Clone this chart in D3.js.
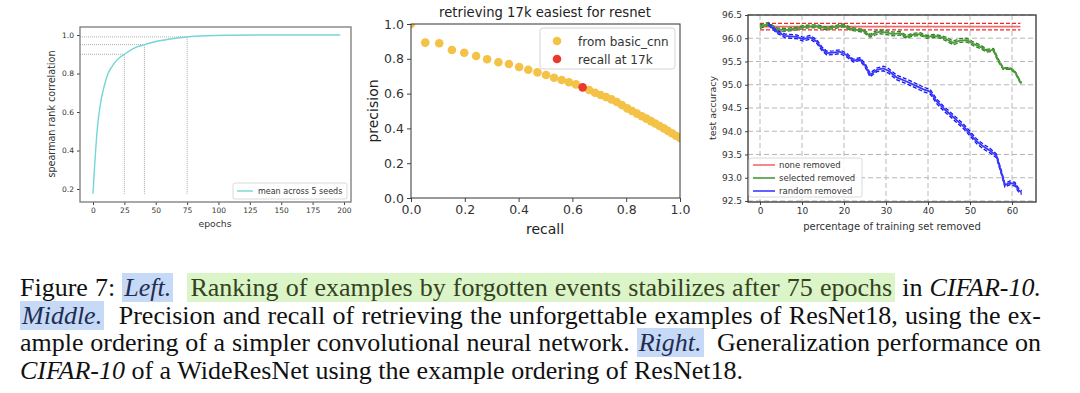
<!DOCTYPE html>
<html>
<head>
<meta charset="utf-8">
<script src="https://cdn.jsdelivr.net/npm/d3@7"></script>
<style>
  body { margin: 0; background: #fff; }
  #wrap { position: relative; width: 1080px; height: 393px; overflow: hidden; }
  svg { position: absolute; left: 0; top: 0; }
  .caption { position: absolute; left: 20px; top: 274px; width: 1021px;
    font-family: "Liberation Serif", "Times New Roman", serif; font-size: 26px; line-height: 27.7px; color: #111; }
  .caption .ln { white-space: nowrap; }
  .caption .j { text-align: justify; text-align-last: justify; white-space: normal; }
  .hl-b { background: #c6d9f6; color: #1f2d52; padding: 0 2px; }
  .hl-g { background: #dbf5c8; color: #34421f; padding: 0 3px; }
</style>
</head>
<body>
<div id="wrap"></div>
<script>
// ---- left: spearman rank correlation vs epochs
const epochs = [0, 1, 2, 3, 4, 5, 6, 8, 10, 12, 15, 18, 21, 25, 30, 35, 41, 50, 60, 75, 90, 110, 130, 160, 197];
const spearman = [0.175, 0.29, 0.39, 0.48, 0.55, 0.60, 0.645, 0.71, 0.76, 0.80, 0.835, 0.862, 0.882, 0.90, 0.922, 0.938, 0.95, 0.966, 0.978, 0.99, 0.996, 0.999, 1.0, 1.0, 1.0];
const markEpochs = [25, 41, 75];
const markCorr = [0.90, 0.95, 0.99];
const leftXTicks = [0, 25, 50, 75, 100, 125, 150, 175, 200];
const leftYTicks = [0.2, 0.4, 0.6, 0.8, 1.0];

// ---- middle: precision / recall
const recall = [0, 0.053, 0.105, 0.152, 0.198, 0.242, 0.283, 0.325, 0.364, 0.402, 0.436, 0.47, 0.502, 0.532, 0.56, 0.587, 0.613,
  0.662, 0.684, 0.705, 0.725, 0.745, 0.765, 0.784, 0.804, 0.822, 0.84, 0.858, 0.875, 0.892, 0.908, 0.924, 0.94, 0.955, 0.97, 0.985, 1.0];
const precision = [1.0, 0.893, 0.889, 0.851, 0.835, 0.816, 0.797, 0.78, 0.77, 0.753, 0.737, 0.722, 0.707, 0.691, 0.678, 0.665, 0.653,
  0.621, 0.605, 0.592, 0.58, 0.567, 0.552, 0.534, 0.515, 0.50, 0.485, 0.47, 0.456, 0.442, 0.428, 0.414, 0.40, 0.386, 0.372, 0.358, 0.345];
const recallAt17k = [0.638];
const precisionAt17k = [0.636];
const midTicks = [0, 0.2, 0.4, 0.6, 0.8, 1.0];

// ---- right: test accuracy vs percentage removed
const noneX = [0, 62];
const noneMean = [96.25, 96.25];
const noneStd = [0.07, 0.07];
const selX = [0, 2, 4, 6.3, 8.7, 11.1, 13.5, 15.9, 18.3, 19.8, 21.4, 23, 24.6, 26.2, 27.4, 28.6, 30.2, 31.7, 33.3, 34.9, 36.1, 38.1, 39.7,
  41.3, 42.9, 44.4, 46, 47.6, 49.2, 50.8, 52.4, 54, 55.6, 56.7, 57.9, 59.5, 60.7, 61.9, 62.3];
const selAcc = [96.25, 96.31, 96.19, 96.18, 96.21, 96.25, 96.26, 96.21, 96.25, 96.28, 96.21, 96.18, 96.16, 96.05, 96.11, 96.14, 96.12,
  96.09, 96.11, 96.03, 96.07, 96.09, 96.03, 96.05, 96.03, 95.98, 95.90, 95.95, 95.96, 95.88, 95.82, 95.73, 95.75, 95.53, 95.35, 95.35,
  95.28, 95.07, 95.03];
const selStd = [0.04, 0.03, 0.03, 0.03, 0.03, 0.03, 0.03, 0.03, 0.03, 0.03, 0.03, 0.03, 0.03, 0.03, 0.04, 0.04, 0.04, 0.04, 0.04, 0.03,
  0.03, 0.03, 0.03, 0.03, 0.03, 0.04, 0.04, 0.04, 0.04, 0.04, 0.04, 0.03, 0.03, 0.03, 0.02, 0.02, 0.02, 0.02, 0.02];
const randX = [2, 4, 6, 8.7, 10.3, 11.9, 13.5, 14.7, 15.9, 17.5, 19, 20.6, 22.2, 23.8, 25, 26.2, 27.8, 29.4, 30.6, 32.5, 34.9, 37.3, 38.9,
  40.5, 42.1, 43.7, 45.2, 46.8, 48.4, 50, 51.6, 53.2, 54.8, 56.3, 57.5, 58.3, 59.5, 60.7, 61.5, 62.3];
const randAcc = [96.30, 96.14, 96.05, 96.03, 95.98, 96.02, 95.93, 95.78, 95.68, 95.69, 95.71, 95.64, 95.52, 95.55, 95.42, 95.21, 95.32,
  95.35, 95.30, 95.16, 95.07, 94.97, 94.90, 94.85, 94.64, 94.49, 94.37, 94.24, 94.11, 93.95, 93.78, 93.67, 93.58, 93.47, 93.10, 92.84,
  92.89, 92.86, 92.74, 92.68];
const randStd = [0.02, 0.03, 0.04, 0.04, 0.04, 0.04, 0.04, 0.04, 0.04, 0.04, 0.04, 0.04, 0.03, 0.03, 0.04, 0.04, 0.04, 0.05, 0.05, 0.05,
  0.05, 0.05, 0.05, 0.05, 0.05, 0.05, 0.05, 0.05, 0.05, 0.05, 0.05, 0.05, 0.05, 0.04, 0.04, 0.04, 0.04, 0.04, 0.04, 0.04];
const rightXTicks = [0, 10, 20, 30, 40, 50, 60];
const rightYTicks = [92.5, 93.0, 93.5, 94.0, 94.5, 95.0, 95.5, 96.0, 96.5];

const FONT = "DejaVu Sans, sans-serif";
const wrap = d3.select("#wrap");
const svg = wrap.append("svg").attr("width", 1080).attr("height", 270);

// helper: draws frame + axes for one panel
const drawAxes = (g, x, y, xTicks, yTicks, opt) => {
    g.append("g")
        .attr("transform", "translate(0," + y.range()[0] + ")")
        .call(d3.axisBottom(x).tickValues(xTicks).tickSize(opt.tick).tickPadding(opt.pad).tickFormat(opt.xf))
        .call(a => a.select(".domain").remove())
        .call(a => a.selectAll("text").attr("font-family", FONT).attr("font-size", opt.fs).attr("fill", "#333"))
        .call(a => a.selectAll("line").attr("stroke", "#444"));
    g.append("g")
        .attr("transform", "translate(" + x.range()[0] + ",0)")
        .call(d3.axisLeft(y).tickValues(yTicks).tickSize(opt.tick).tickPadding(opt.pad).tickFormat(opt.yf))
        .call(a => a.select(".domain").remove())
        .call(a => a.selectAll("text").attr("font-family", FONT).attr("font-size", opt.fs).attr("fill", "#333"))
        .call(a => a.selectAll("line").attr("stroke", "#444"));
    g.append("rect")
        .attr("x", x.range()[0]).attr("y", y.range()[1])
        .attr("width", x.range()[1] - x.range()[0]).attr("height", y.range()[0] - y.range()[1])
        .attr("fill", "none").attr("stroke", opt.frame).attr("stroke-width", opt.fw);
};

// ================= LEFT =================
{
    const g = svg.append("g");
    const x = d3.scaleLinear().domain([-10.36, 205.6]).range([80, 351]);
    const y = d3.scaleLinear().domain([0.1325, 1.0416]).range([202, 27]);

    // dotted guide lines
    markEpochs.forEach((e, i) => {
        g.append("line").attr("x1", x(e)).attr("x2", x(e)).attr("y1", y(d3.min(spearman))).attr("y2", y(markCorr[i]))
            .attr("stroke", "#888").attr("stroke-width", 0.7).attr("stroke-dasharray", "1,1");
        g.append("line").attr("x1", x.range()[0]).attr("x2", x(e)).attr("y1", y(markCorr[i])).attr("y2", y(markCorr[i]))
            .attr("stroke", "#888").attr("stroke-width", 0.7).attr("stroke-dasharray", "1,1");
    });

    const line = d3.line().x((d, i) => x(epochs[i])).y(d => y(d)).curve(d3.curveMonotoneX);
    g.append("path").attr("d", line(spearman)).attr("fill", "none").attr("stroke", "#74d6d6").attr("stroke-width", 1.4);

    drawAxes(g, x, y, leftXTicks, leftYTicks, { tick: 3, pad: 3, fs: 7.5, frame: "#7a7a7a", fw: 1.3,
        xf: d3.format("d"), yf: d3.format(".1f") });

    g.append("text").attr("x", 215).attr("y", 227).attr("text-anchor", "middle")
        .attr("font-family", FONT).attr("font-size", 9.3).attr("fill", "#333").text("epochs");
    g.append("text").attr("transform", "translate(55,114) rotate(-90)").attr("text-anchor", "middle")
        .attr("font-family", FONT).attr("font-size", 9.6).attr("fill", "#333").text("spearman rank correlation");

    // legend
    g.append("rect").attr("x", 233).attr("y", 183).attr("width", 114).attr("height", 16).attr("rx", 2)
        .attr("fill", "#fff").attr("stroke", "#d0d0d0").attr("stroke-width", 0.8);
    g.append("line").attr("x1", 237).attr("x2", 253).attr("y1", 191).attr("y2", 191)
        .attr("stroke", "#74d6d6").attr("stroke-width", 1.4);
    g.append("text").attr("x", 258).attr("y", 194).attr("font-family", FONT).attr("font-size", 8)
        .attr("fill", "#333").text("mean across 5 seeds");
}

// ================= MIDDLE =================
{
    const g = svg.append("g");
    const x = d3.scaleLinear().domain([0, 1]).range([411, 680]);
    const y = d3.scaleLinear().domain([0, 1]).range([198, 24]);

    const clip = svg.append("clipPath").attr("id", "midclip");
    clip.append("rect").attr("x", 411).attr("y", 24).attr("width", 269).attr("height", 174);
    const pts = g.append("g").attr("clip-path", "url(#midclip)");

    pts.selectAll("circle.cnn").data(recall).enter().append("circle").attr("class", "cnn")
        .attr("cx", d => x(d)).attr("cy", (d, i) => y(precision[i])).attr("r", 4.3)
        .attr("fill", "#f3c246");
    pts.selectAll("circle.k17").data(recallAt17k).enter().append("circle").attr("class", "k17")
        .attr("cx", d => x(d)).attr("cy", (d, i) => y(precisionAt17k[i])).attr("r", 4.3)
        .attr("fill", "#ea3a2c");

    drawAxes(g, x, y, midTicks, midTicks, { tick: 4, pad: 3, fs: 12.5, frame: "#333", fw: 1,
        xf: d3.format(".1f"), yf: d3.format(".1f") });

    g.append("text").attr("x", 545).attr("y", 17).attr("text-anchor", "middle")
        .attr("font-family", FONT).attr("font-size", 13.2).attr("fill", "#222").text("retrieving 17k easiest for resnet");
    g.append("text").attr("x", 545).attr("y", 234).attr("text-anchor", "middle")
        .attr("font-family", FONT).attr("font-size", 14).attr("fill", "#222").text("recall");
    g.append("text").attr("transform", "translate(378,111) rotate(-90)").attr("text-anchor", "middle")
        .attr("font-family", FONT).attr("font-size", 14).attr("fill", "#222").text("precision");

    // legend
    g.append("rect").attr("x", 540).attr("y", 28).attr("width", 135).attr("height", 41).attr("rx", 3)
        .attr("fill", "#fff").attr("fill-opacity", 0.85).attr("stroke", "#d5d5d5").attr("stroke-width", 1);
    const entries = [["from basic_cnn", "#f3c246"], ["recall at 17k", "#ea3a2c"]];
    entries.forEach((e, i) => {
        g.append("circle").attr("cx", 557).attr("cy", 41 + i * 18).attr("r", 4.3).attr("fill", e[1]);
        g.append("text").attr("x", 578).attr("y", 45.5 + i * 18).attr("font-family", FONT).attr("font-size", 12)
            .attr("fill", "#333").text(e[0]);
    });
}

// ================= RIGHT =================
{
    const g = svg.append("g");
    const x = d3.scaleLinear().domain([-2.857, 65.71]).range([748, 1036]);
    const y = d3.scaleLinear().domain([92.478, 96.5]).range([202, 15]);

    // dashed grid
    g.append("g").selectAll("line").data(rightXTicks).enter().append("line")
        .attr("x1", d => x(d)).attr("x2", d => x(d)).attr("y1", 15).attr("y2", 202)
        .attr("stroke", "#b8b8b8").attr("stroke-width", 1).attr("stroke-dasharray", "5,3");
    g.append("g").selectAll("line").data(rightYTicks).enter().append("line")
        .attr("x1", 748).attr("x2", 1036).attr("y1", d => y(d)).attr("y2", d => y(d))
        .attr("stroke", "#b8b8b8").attr("stroke-width", 1).attr("stroke-dasharray", "5,3");

    const series = (xs, mean, std, dark, light) => {
        const l = (sign) => d3.line().x((d, i) => x(xs[i])).y((d, i) => y(d + sign * std[i]));
        g.append("path").attr("d", l(1)(mean)).attr("fill", "none").attr("stroke", dark)
            .attr("stroke-width", 1.3).attr("stroke-dasharray", "4,2");
        g.append("path").attr("d", l(-1)(mean)).attr("fill", "none").attr("stroke", dark)
            .attr("stroke-width", 1.3).attr("stroke-dasharray", "4,2");
        g.append("path").attr("d", l(0)(mean)).attr("fill", "none").attr("stroke", light)
            .attr("stroke-width", 1.8).attr("stroke-linejoin", "round");
    };
    series(noneX, noneMean, noneStd, "#ee2a2a", "#f26a6a");
    series(selX, selAcc, selStd, "#2f7f1f", "#4a9a3a");
    series(randX, randAcc, randStd, "#1515f0", "#3a3aff");

    drawAxes(g, x, y, rightXTicks, rightYTicks, { tick: 3, pad: 3, fs: 9, frame: "#333", fw: 1.3,
        xf: d3.format("d"), yf: d3.format(".1f") });

    g.append("text").attr("x", 892).attr("y", 230).attr("text-anchor", "middle")
        .attr("font-family", FONT).attr("font-size", 10).attr("fill", "#333").text("percentage of training set removed");
    g.append("text").attr("transform", "translate(716,108) rotate(-90)").attr("text-anchor", "middle")
        .attr("font-family", FONT).attr("font-size", 9.5).attr("fill", "#333").text("test accuracy");

    // legend
    g.append("rect").attr("x", 749).attr("y", 158).attr("width", 113).attr("height", 39).attr("rx", 2)
        .attr("fill", "#fff").attr("fill-opacity", 0.85).attr("stroke", "#d0d0d0").attr("stroke-width", 0.8);
    const entries = [["none removed", "#f26a6a"], ["selected removed", "#4a9a3a"], ["random removed", "#3a3aff"]];
    entries.forEach((e, i) => {
        g.append("line").attr("x1", 753).attr("x2", 775).attr("y1", 165 + i * 13).attr("y2", 165 + i * 13)
            .attr("stroke", e[1]).attr("stroke-width", 1.6);
        g.append("text").attr("x", 779).attr("y", 168 + i * 13).attr("font-family", FONT).attr("font-size", 8.5)
            .attr("fill", "#333").text(e[0]);
    });
}

// ================= CAPTION =================
const captionLines = [
    [["Figure 7: ", ""], ["Left.", "ib"], ["\u00a0 ", ""], ["Ranking of examples by forgotten events stabilizes after 75 epochs", "g"], [" in ", ""], ["CIFAR-10.", "i"]],
    [["Middle.", "ib"], ["\u00a0 Precision and recall of retrieving the unforgettable examples of ResNet18, using the ex-", ""]],
    [["ample ordering of a simpler convolutional neural network. ", ""], ["Right.", "ib"], ["\u00a0 Generalization performance on", ""]],
    [["CIFAR-10", "i"], [" of a WideResNet using the example ordering of ResNet18.", ""]]
];
const cap = wrap.append("div").attr("class", "caption");
captionLines.forEach((segs, li) => {
    const ln = cap.append("div").attr("class", li < 3 ? "ln j" : "ln");
    segs.forEach(s => {
        const sp = ln.append("span").text(s[0]);
        if (s[1].includes("i")) sp.style("font-style", "italic");
        if (s[1].includes("b")) sp.attr("class", "hl-b");
        if (s[1] === "g") sp.attr("class", "hl-g");
    });
});
</script>
</body>
</html>
